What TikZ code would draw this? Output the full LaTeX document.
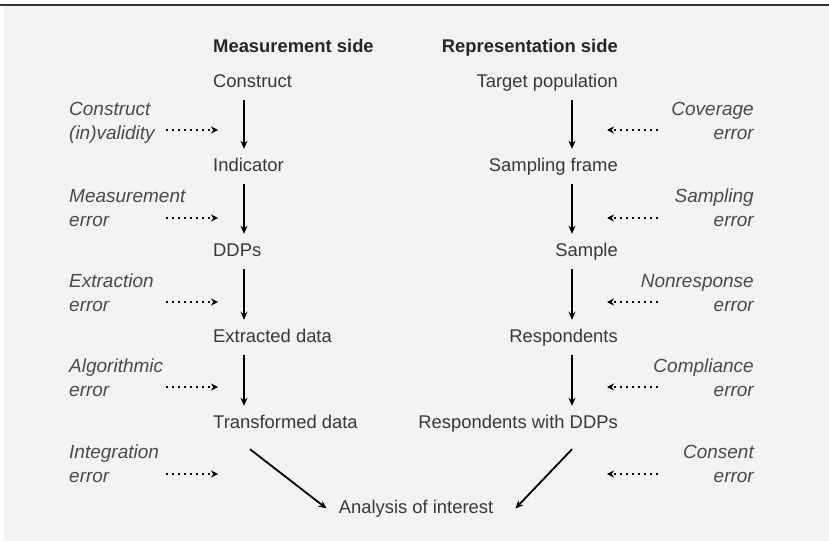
\documentclass[tikz,border=0pt]{standalone}
\usepackage{fontspec}
\setmainfont{Liberation Sans}
\usetikzlibrary{arrows.meta,calc}
\definecolor{bg}{HTML}{F3F3F3}
\definecolor{txt}{HTML}{383838}
\definecolor{errtxt}{HTML}{4A4A4A}
\begin{document}
\begin{tikzpicture}[x=1pt,y=-1pt,
  main/.style={font=\fontsize{18.4}{22}\selectfont, text=txt, inner xsep=0pt, inner ysep=9pt, text height=13pt, text depth=4pt},
  head/.style={main, font=\fontsize{18.4}{22}\selectfont\bfseries, text=black!85},
  err/.style={font=\fontsize{19}{24}\selectfont\itshape, text=errtxt, inner sep=0pt},
  arr/.style={line width=1.8pt, -{Stealth[length=8pt,width=7pt]}},
  dotarr/.style={line width=2.4pt, dash pattern=on 2.4pt off 3.6pt, -{Stealth[length=7pt,width=7pt]}}
]
\useasboundingbox (0,0) rectangle (829,541);
\fill[white] (0,0) rectangle (829,541);
\fill[bg] (4,6) rectangle (829,541);
\draw[line width=2pt, black!80] (0,5) -- (829,5);

% headings
\node[head, anchor=base west] (mhead) at (213,52) {Measurement side};
\node[head, anchor=base east] (rhead) at (618,52) {Representation side};

% measurement side
\node[main, anchor=base west] (construct) at (213,87) {Construct};
\node[main, anchor=base west] (indicator) at (213,171) {Indicator};
\node[main, anchor=base west] (ddps) at (213,256) {DDPs};
\node[main, anchor=base west] (extracted) at (213,342) {Extracted data};
\node[main, anchor=base west] (transformed) at (213,428) {Transformed data};

% representation side
\node[main, anchor=base east] (target) at (618,87) {Target population};
\node[main, anchor=base east] (frame) at (618,171) {Sampling frame};
\node[main, anchor=base east] (sample) at (618,256) {Sample};
\node[main, anchor=base east] (respondents) at (618,342) {Respondents};
\node[main, anchor=base east] (respddp) at (618,428) {Respondents with DDPs};

\node[main, anchor=base] (analysis) at (416,513) {Analysis of interest};

% vertical arrows
\coordinate (xl) at (244,0);
\coordinate (xr) at (572,0);
\draw[arr] (construct.south -| xl) -- (indicator.north -| xl);
\draw[arr] (indicator.south -| xl) -- (ddps.north -| xl);
\draw[arr] (ddps.south -| xl) -- (extracted.north -| xl);
\draw[arr] (extracted.south -| xl) -- (transformed.north -| xl);
\draw[arr] (target.south -| xr) -- (frame.north -| xr);
\draw[arr] (frame.south -| xr) -- (sample.north -| xr);
\draw[arr] (sample.south -| xr) -- (respondents.north -| xr);
\draw[arr] (respondents.south -| xr) -- (respddp.north -| xr);

% diagonal arrows
\coordinate (dl) at (250,0);
\coordinate (dr) at (572,0);
\draw[arr] ($(transformed.south -| dl)+(0,8)$) -- ($(analysis.west)+(-12,0)$);
\draw[arr] ($(respddp.south -| dr)+(0,8)$) -- ($(analysis.east)+(22,0)$);

% error labels (base anchor = baseline of the last line)
\node[err, anchor=base west, align=left] (e1) at (69,139) {Construct\\(in)validity};
\node[err, anchor=base west, align=left] (e2) at (69,226) {Measurement\\error};
\node[err, anchor=base west, align=left] (e3) at (69,311) {Extraction\\error};
\node[err, anchor=base west, align=left] (e4) at (69,396) {Algorithmic\\error};
\node[err, anchor=base west, align=left] (e5) at (69,482) {Integration\\error};

\node[err, anchor=base east, align=right] (r1) at (754,139) {Coverage\\error};
\node[err, anchor=base east, align=right] (r2) at (754,226) {Sampling\\error};
\node[err, anchor=base east, align=right] (r3) at (754,311) {Nonresponse\\error};
\node[err, anchor=base east, align=right] (r4) at (754,396) {Compliance\\error};
\node[err, anchor=base east, align=right] (r5) at (754,482) {Consent\\error};

% dotted error arrows
\foreach \y [count=\i] in {130,218,302,387,474} {
  \coordinate (ls\i) at (166,\y);
  \coordinate (le\i) at (218,\y);
  \coordinate (rs\i) at (658,\y);
  \coordinate (re\i) at (607,\y);
  \draw[dotarr] (ls\i) -- (le\i);
  \draw[dotarr] (rs\i) -- (re\i);
}
\end{tikzpicture}
\end{document}
